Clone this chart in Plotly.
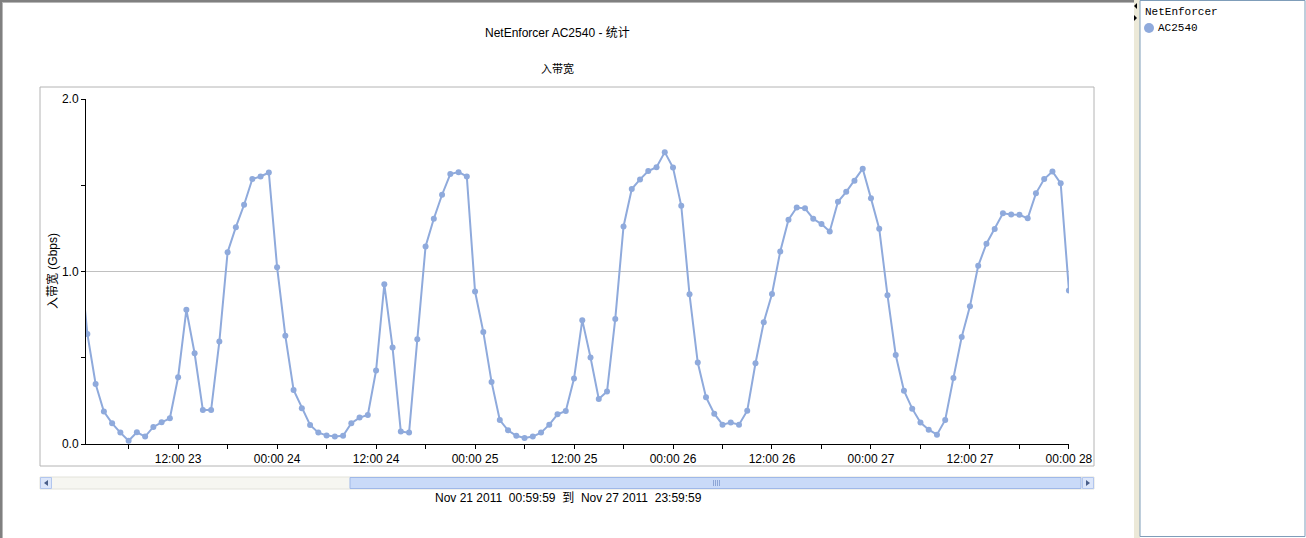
import pandas as pd
import plotly.graph_objects as go

# ---------------- data ----------------
series_name = "AC2540"
legend_title = "NetEnforcer"
chart_title = "NetEnforcer AC2540 - 统计"
chart_subtitle = "入带宽"
y_title = "入带宽 (Gbps)"
range_caption = "Nov 21 2011\u00a0\u00a000:59:59\u00a0\u00a0到\u00a0\u00a0Nov 27 2011\u00a0\u00a023:59:59"

first_time = "2011-11-23 00:00"
view_start = "2011-11-23 00:50"
view_end = "2011-11-28 00:00:30"

# hourly inbound bandwidth (Gbps), from 2011-11-23 00:00 to 2011-11-28 00:00
values = [
    1.13,
    0.638, 0.348, 0.188, 0.120, 0.066, 0.019, 0.068, 0.043, 0.099, 0.126, 0.149,
    0.387, 0.778, 0.526, 0.197, 0.197, 0.594, 1.112, 1.257, 1.387, 1.536, 1.551, 1.574,
    1.025, 0.627, 0.313, 0.207, 0.110, 0.066, 0.050, 0.043, 0.048, 0.120, 0.153, 0.168,
    0.426, 0.926, 0.559, 0.072, 0.066, 0.607, 1.145, 1.306, 1.445, 1.565, 1.576, 1.551,
    0.884, 0.650, 0.360, 0.139, 0.079, 0.048, 0.035, 0.043, 0.066, 0.112, 0.172, 0.191,
    0.379, 0.718, 0.501, 0.261, 0.304, 0.725, 1.261, 1.478, 1.534, 1.582, 1.605, 1.692,
    1.603, 1.381, 0.868, 0.472, 0.271, 0.176, 0.112, 0.124, 0.112, 0.193, 0.468, 0.706,
    0.870, 1.116, 1.300, 1.371, 1.366, 1.306, 1.275, 1.232, 1.404, 1.462, 1.526, 1.596,
    1.424, 1.248, 0.863, 0.516, 0.309, 0.205, 0.124, 0.083, 0.054, 0.139, 0.383, 0.620,
    0.799, 1.033, 1.161, 1.246, 1.337, 1.331, 1.329, 1.308, 1.453, 1.536, 1.580, 1.511,
    0.890,
]
times = pd.date_range(first_time, periods=len(values), freq="h")

# ---------------- style / layout ----------------
W, H = 1306, 538
PL, PR, PT, PB = 86, 1069, 99, 444  # plot area in pixels
LINE = "#8FAADC"
FONT = "Liberation Sans, Arial, sans-serif"
CJK = "Liberation Sans, Noto Sans CJK SC, sans-serif"


def px(x):
    return (x - PL) / (PR - PL)


def py(y):
    return (PB - y) / (PB - PT)


fig = go.Figure()
fig.add_trace(go.Scatter(
    x=times, y=values, name=series_name, mode="lines+markers",
    line=dict(color=LINE, width=2), marker=dict(color=LINE, size=6),
    showlegend=False, hoverinfo="skip",
))

shapes = []


def rect(x0, y0, x1, y1, fill=None, line=None, lw=1):
    shapes.append(dict(type="rect", xref="paper", yref="paper",
                       x0=px(x0), x1=px(x1), y0=py(y1), y1=py(y0),
                       fillcolor=fill if fill else "rgba(0,0,0,0)",
                       line=dict(color=line if line else "rgba(0,0,0,0)", width=lw if line else 0),
                       layer="above"))


def poly(pts, fill):
    d = "M " + " L ".join(f"{px(a):.6f},{py(b):.6f}" for a, b in pts) + " Z"
    shapes.append(dict(type="path", xref="paper", yref="paper", path=d,
                       fillcolor=fill, line=dict(width=0), layer="above"))


# window frame
rect(0, 0, 1134, 2, fill="#808080")
rect(0, 0, 2, H, fill="#808080")
rect(2, 2, 1134, 3, fill="#b8b8b8")
rect(2, 2, 3, H, fill="#b8b8b8")
# splitter and legend panel
rect(1134, 0, 1140, H, fill="#ECE9D8")
rect(1140, 0.5, 1305, 536.5, fill="white", line="#7F9DB9")
poly([(1137, 3), (1134, 6), (1137, 9)], "#000000")
poly([(1134, 15), (1137, 18), (1134, 21)], "#000000")

# chart box
rect(40, 87, 1094, 466, line="#B4B4B4")

# scrollbar
rect(40, 477, 1094, 489, fill="#F6F6F1", line="#E2E2DA")
rect(350, 477.5, 1081, 488.5, fill="#C9DAF8", line="#9FB8E8")
rect(40.5, 477.5, 51.5, 488.5, fill="#DCE6FA", line="#B2C6EE")
rect(1082.5, 477.5, 1093.5, 488.5, fill="#DCE6FA", line="#B2C6EE")
poly([(48, 480), (44, 483), (48, 486)], "#4A5F8A")
poly([(1086, 480), (1090, 483), (1086, 486)], "#4A5F8A")
for gx in (713, 715, 717, 719):
    rect(gx, 480, gx + 1, 486, fill="#8FA7D6")

# legend marker
shapes.append(dict(type="circle", xref="paper", yref="paper",
                   x0=px(1144), x1=px(1154), y0=py(33), y1=py(23),
                   fillcolor=LINE, line=dict(width=0), layer="above"))

annotations = [
    dict(text=chart_title, x=px(557), y=py(33), font=dict(family=CJK, size=12, color="black")),
    dict(text=chart_subtitle, x=px(557), y=py(68), font=dict(family=CJK, size=11, color="black")),
    dict(text=y_title, x=px(52), y=py(271), textangle=-90, font=dict(family=CJK, size=12, color="black")),
    dict(text=range_caption, x=px(568), y=py(498), font=dict(family=CJK, size=12, color="black")),
    dict(text=legend_title, x=px(1143), y=py(12), xanchor="left",
         font=dict(family="Liberation Mono, monospace", size=11, color="black")),
    dict(text=series_name, x=px(1156), y=py(28), xanchor="left",
         font=dict(family="Liberation Mono, monospace", size=11, color="black")),
]
for a in annotations:
    a.setdefault("xanchor", "center")
    a.update(xref="paper", yref="paper", yanchor="middle", showarrow=False)

fig.update_layout(
    width=W, height=H, autosize=False,
    margin=dict(l=PL, r=W - PR, t=PT, b=H - PB, pad=0),
    paper_bgcolor="white", plot_bgcolor="white",
    font=dict(family=FONT, size=12, color="black"),
    shapes=shapes, annotations=annotations, showlegend=False,
    xaxis=dict(
        type="date", range=[view_start, view_end],
        showline=True, linecolor="black", linewidth=1,
        ticks="outside", ticklen=4, tickcolor="black", tickwidth=1,
        tick0="2011-11-23 00:00", dtick=12 * 3600 * 1000, tickformat="%H:%M %d",
        tickfont=dict(family=FONT, size=12, color="black"),
        showgrid=False, zeroline=False,
        minor=dict(tick0="2011-11-23 00:00", dtick=6 * 3600 * 1000, ticks="outside",
                   ticklen=4, tickcolor="black", showgrid=False),
    ),
    yaxis=dict(
        range=[0, 2], tick0=0, dtick=1, tickformat=".1f",
        showline=True, linecolor="black", linewidth=1,
        ticks="outside", ticklen=4, tickcolor="black",
        tickfont=dict(family=FONT, size=12, color="black"),
        showgrid=True, gridcolor="#C0C0C0", gridwidth=1, zeroline=False,
        minor=dict(dtick=0.5, ticks="outside", ticklen=4, tickcolor="black", showgrid=False),
    ),
)

fig.write_html(
    "out.html",
    config={"displayModeBar": False},
    post_script="document.body.style.margin='0';document.documentElement.style.overflow='hidden';",
)
